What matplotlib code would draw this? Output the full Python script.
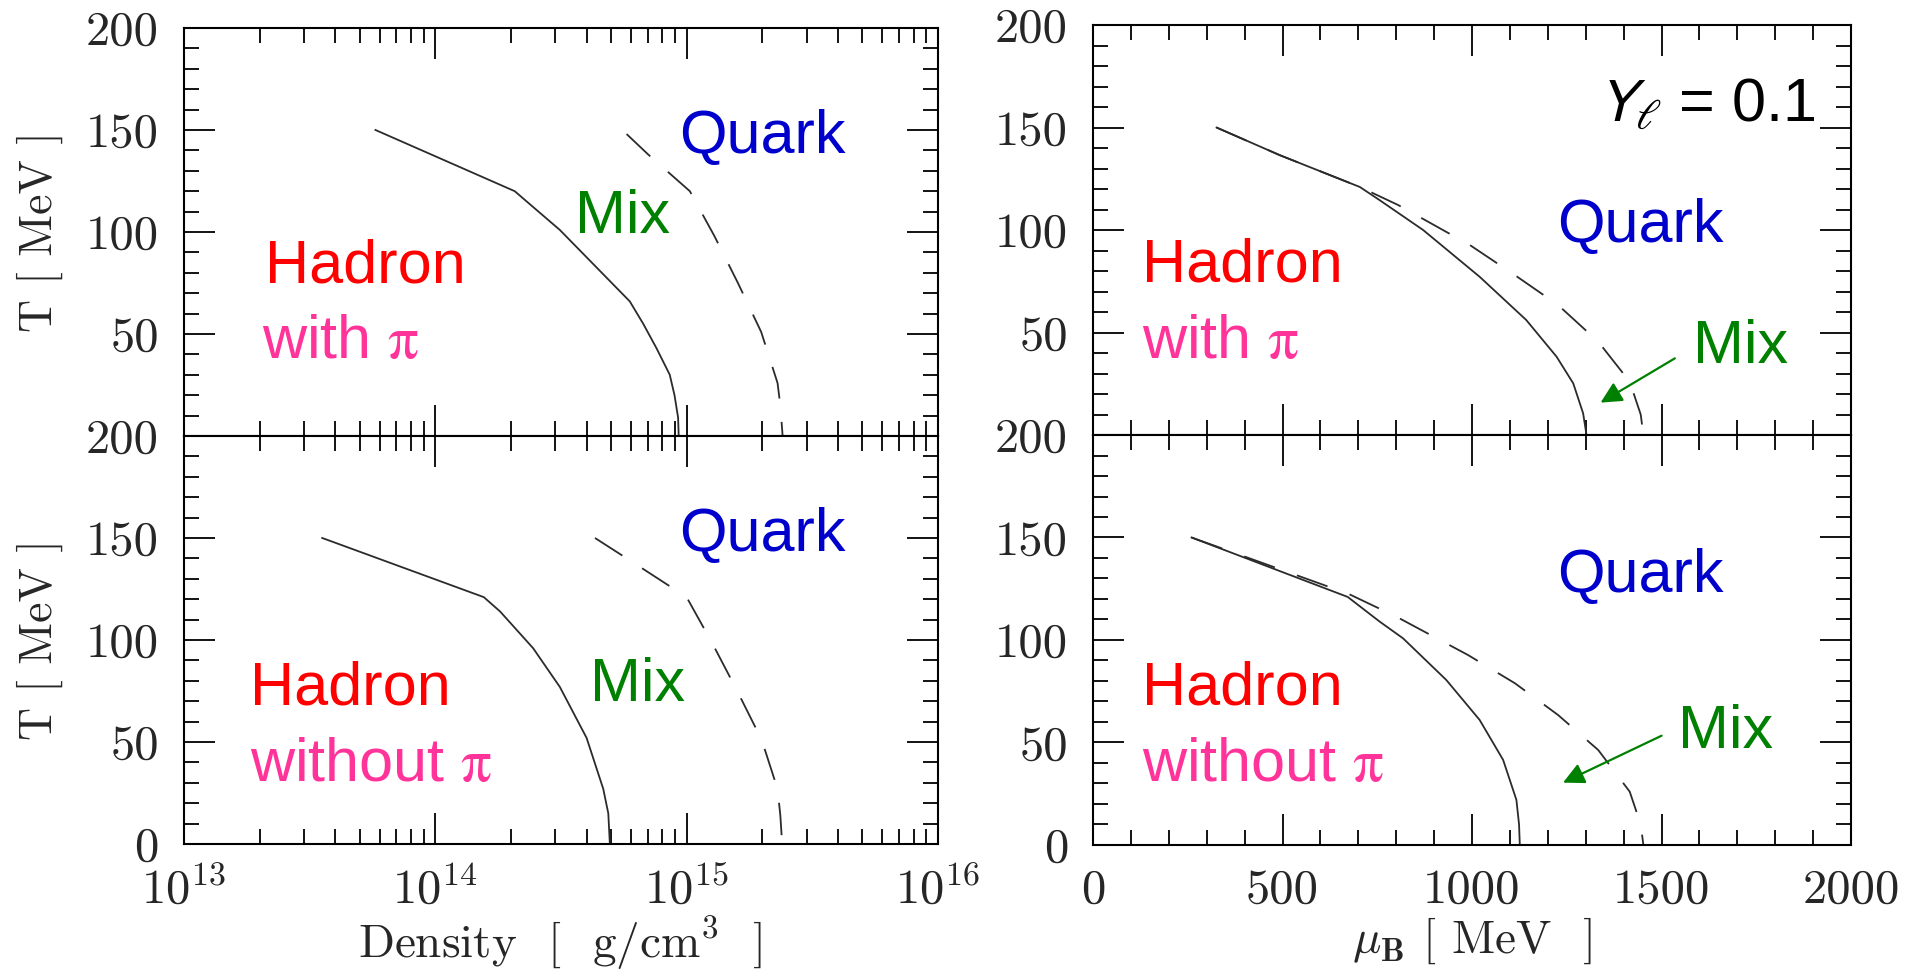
"""QCD phase boundaries (Y_l = 0.1): T vs density and T vs baryon chemical potential."""

import matplotlib

matplotlib.use("Agg")
import matplotlib.pyplot as plt
from matplotlib.ticker import LogLocator, MultipleLocator, NullFormatter

plt.rcParams["font.family"] = "cmr10"
plt.rcParams["mathtext.fontset"] = "cm"
plt.rcParams["axes.formatter.use_mathtext"] = True

# ---- data ---------------------------------------------------------------
# left column: density [g/cm^3] vs T [MeV]
DENS_PI_HADRON = [5.78e13, 2.07e14, 3.13e14, 5.94e14, 6.72e14, 7.59e14, 8.57e14, 8.95e14, 9.25e14, 9.30e14]
T_PI_HADRON = [150, 120, 101, 66, 55, 43, 30, 20, 9, 0]
DENS_PI_QUARK = [5.77e14, 7.03e14, 1.03e15, 1.29e15, 1.60e15, 1.98e15, 2.30e15, 2.36e15, 2.41e15]
T_PI_QUARK = [148, 138, 120, 98, 75, 51, 26, 15, 0]

DENS_NOPI_HADRON = [3.55e13, 1.56e14, 1.81e14, 2.45e14, 3.13e14, 4.0e14, 4.66e14, 4.88e14, 4.95e14]
T_NOPI_HADRON = [150, 121, 114, 96, 77, 52, 27, 15, 0]
DENS_NOPI_QUARK = [4.32e14, 6.68e14, 1.0e15, 1.27e15, 1.59e15, 1.99e15, 2.30e15, 2.36e15, 2.40e15]
T_NOPI_QUARK = [150, 135, 121, 98, 75, 51, 27, 14, 0]

# right column: mu_B [MeV] vs T [MeV]
MU_PI_HADRON = [326, 493, 704, 756, 871, 1020, 1143, 1223, 1267, 1293, 1302]
T_MU_PI_HADRON = [150, 136.5, 121, 114.6, 100, 77.2, 56.1, 38.2, 25.2, 10.6, 0]
MU_PI_QUARK = [326, 493, 704, 805, 994, 1113, 1227, 1333, 1416, 1445, 1452]
T_MU_PI_QUARK = [150, 136.5, 121, 112.2, 92.7, 78, 63.4, 45.5, 26, 10, 0]

MU_NOPI_HADRON = [260, 672, 756, 818, 932, 1020, 1082, 1117, 1124, 1126]
T_MU_NOPI_HADRON = [150, 121, 109, 100.8, 80.5, 61, 41.5, 22, 10, 0]
MU_NOPI_QUARK = [260, 674, 800, 989, 1113, 1227, 1333, 1416, 1445, 1452]
T_MU_NOPI_QUARK = [150, 122.5, 111.4, 92.7, 78.9, 63.4, 46.3, 26, 10, 0]

# "Mix" arrows (tail, head) in mu_B / T
ARROW_PI = ((1535, 37.4), (1339, 15.8))
ARROW_NOPI = ((1500, 53.3), (1240, 30.4))

T_TICKS = [0, 50, 100, 150, 200]
T_TICK_LABELS_TOP = ["", "50", "100", "150", "200"]
T_TICK_LABELS = ["0", "50", "100", "150", "200"]
DENS_TICKS = [1e13, 1e14, 1e15, 1e16]
DENS_TICK_LABELS = [r"$10^{13}$", r"$10^{14}$", r"$10^{15}$", r"$10^{16}$"]
MU_TICKS = [0, 500, 1000, 1500, 2000]
MU_TICK_LABELS = ["0", "500", "1000", "1500", "2000"]

LINE_COLOR = "#2b2b2b"
TICK_TEXT = "#262626"
RED = "#ff0000"
PINK = "#ff3399"
BLUE = "#0000cc"
GREEN = "#008000"
DASHES = (18, 13)


def style_axes(ax, log_x):
    ax.set_ylim(0, 200)
    ax.yaxis.set_minor_locator(MultipleLocator(10))
    if log_x:
        ax.set_xscale("log")
        ax.set_xlim(1e13, 1e16)
        ax.xaxis.set_minor_locator(LogLocator(base=10, subs=range(2, 10), numticks=20))
        ax.xaxis.set_minor_formatter(NullFormatter())
    else:
        ax.set_xlim(0, 2000)
        ax.xaxis.set_minor_locator(MultipleLocator(100))
    ax.tick_params(which="both", direction="in", top=True, right=True, width=1.3,
                   colors="black", labelcolor=TICK_TEXT, labelsize=35)
    ax.tick_params(which="major", length=22)
    ax.tick_params(which="minor", length=11)
    ax.tick_params(axis="y", pad=18)
    ax.tick_params(axis="x", pad=17)
    for spine in ax.spines.values():
        spine.set_linewidth(1.5)


def put(ax, x, y, text, color, **kw):
    ax.text(x, y, text, color=color, fontsize=44, family="Liberation Sans",
            va="baseline", ha="left", transform=ax.transAxes, **kw)


fig = plt.figure(figsize=(19.24, 9.71), dpi=100)
ax_tl = fig.add_axes([0.0956, 0.5510, 0.3919, 0.4202])
ax_bl = fig.add_axes([0.0956, 0.1308, 0.3919, 0.4202])
ax_tr = fig.add_axes([0.5681, 0.5520, 0.3940, 0.4222])
ax_br = fig.add_axes([0.5681, 0.1298, 0.3940, 0.4222])

# left column
for ax, dh, th, dq, tq in (
    (ax_tl, DENS_PI_HADRON, T_PI_HADRON, DENS_PI_QUARK, T_PI_QUARK),
    (ax_bl, DENS_NOPI_HADRON, T_NOPI_HADRON, DENS_NOPI_QUARK, T_NOPI_QUARK),
):
    ax.plot(dh, th, color=LINE_COLOR, lw=1.3)
    ax.plot(dq, tq, color=LINE_COLOR, lw=1.3, dashes=DASHES)
    style_axes(ax, log_x=True)
    ax.set_xticks(DENS_TICKS, DENS_TICK_LABELS)
    ax.set_ylabel("T [ MeV ]", fontsize=33, color=TICK_TEXT, va="center")
    ax.yaxis.set_label_coords(-0.191, 0.5)

# right column
for ax, mh, th, mq, tq in (
    (ax_tr, MU_PI_HADRON, T_MU_PI_HADRON, MU_PI_QUARK, T_MU_PI_QUARK),
    (ax_br, MU_NOPI_HADRON, T_MU_NOPI_HADRON, MU_NOPI_QUARK, T_MU_NOPI_QUARK),
):
    ax.plot(mh, th, color=LINE_COLOR, lw=1.3)
    ax.plot(mq, tq, color=LINE_COLOR, lw=1.3, dashes=DASHES)
    style_axes(ax, log_x=False)
    ax.set_xticks(MU_TICKS, MU_TICK_LABELS)

for ax in (ax_tl, ax_tr):
    ax.set_yticks(T_TICKS, T_TICK_LABELS_TOP)
    ax.tick_params(labelbottom=False)
for ax in (ax_bl, ax_br):
    ax.set_yticks(T_TICKS, T_TICK_LABELS)

ax_bl.set_xlabel(r"Density  [  g/cm$^3$  ]", fontsize=34, color=TICK_TEXT, va="baseline")
ax_bl.xaxis.set_label_coords(0.499, -0.278)
ax_br.set_xlabel(r"$\mu_{\mathbf{B}}$ [ MeV  ]", fontsize=34, color=TICK_TEXT, va="baseline")
ax_br.xaxis.set_label_coords(0.50, -0.263)

# region labels
put(ax_tl, 0.108, 0.377, "Hadron", RED)
put(ax_tl, 0.104, 0.191, r"with $\mathrm{\pi}$", PINK, math_fontfamily="stix")
put(ax_tl, 0.518, 0.497, "Mix", GREEN)
put(ax_tl, 0.657, 0.694, "Quark", BLUE)

put(ax_bl, 0.088, 0.341, "Hadron", RED)
put(ax_bl, 0.088, 0.154, r"without $\mathrm{\pi}$", PINK, math_fontfamily="stix")
put(ax_bl, 0.539, 0.350, "Mix", GREEN)
put(ax_bl, 0.657, 0.719, "Quark", BLUE)

put(ax_tr, 0.064, 0.374, "Hadron", RED)
put(ax_tr, 0.064, 0.188, r"with $\mathrm{\pi}$", PINK, math_fontfamily="stix")
put(ax_tr, 0.612, 0.4715, "Quark", BLUE)
put(ax_tr, 0.792, 0.1756, "Mix", GREEN)
ax_tr.text(0.665, 0.764, r"$Y_\ell$ = 0.1", color="black", fontsize=44, family="Liberation Sans",
           va="baseline", ha="left", transform=ax_tr.transAxes, math_fontfamily="stixsans")

put(ax_br, 0.064, 0.3415, "Hadron", RED)
put(ax_br, 0.064, 0.157, r"without $\mathrm{\pi}$", PINK, math_fontfamily="stix")
put(ax_br, 0.612, 0.618, "Quark", BLUE)
put(ax_br, 0.772, 0.236, "Mix", GREEN)

for ax, (tail, head) in ((ax_tr, ARROW_PI), (ax_br, ARROW_NOPI)):
    ax.annotate("", xy=head, xytext=tail,
                arrowprops=dict(arrowstyle="-|>", color=GREEN, lw=1.6, mutation_scale=32,
                                shrinkA=0, shrinkB=0))

fig.savefig("out.png", dpi=100)
